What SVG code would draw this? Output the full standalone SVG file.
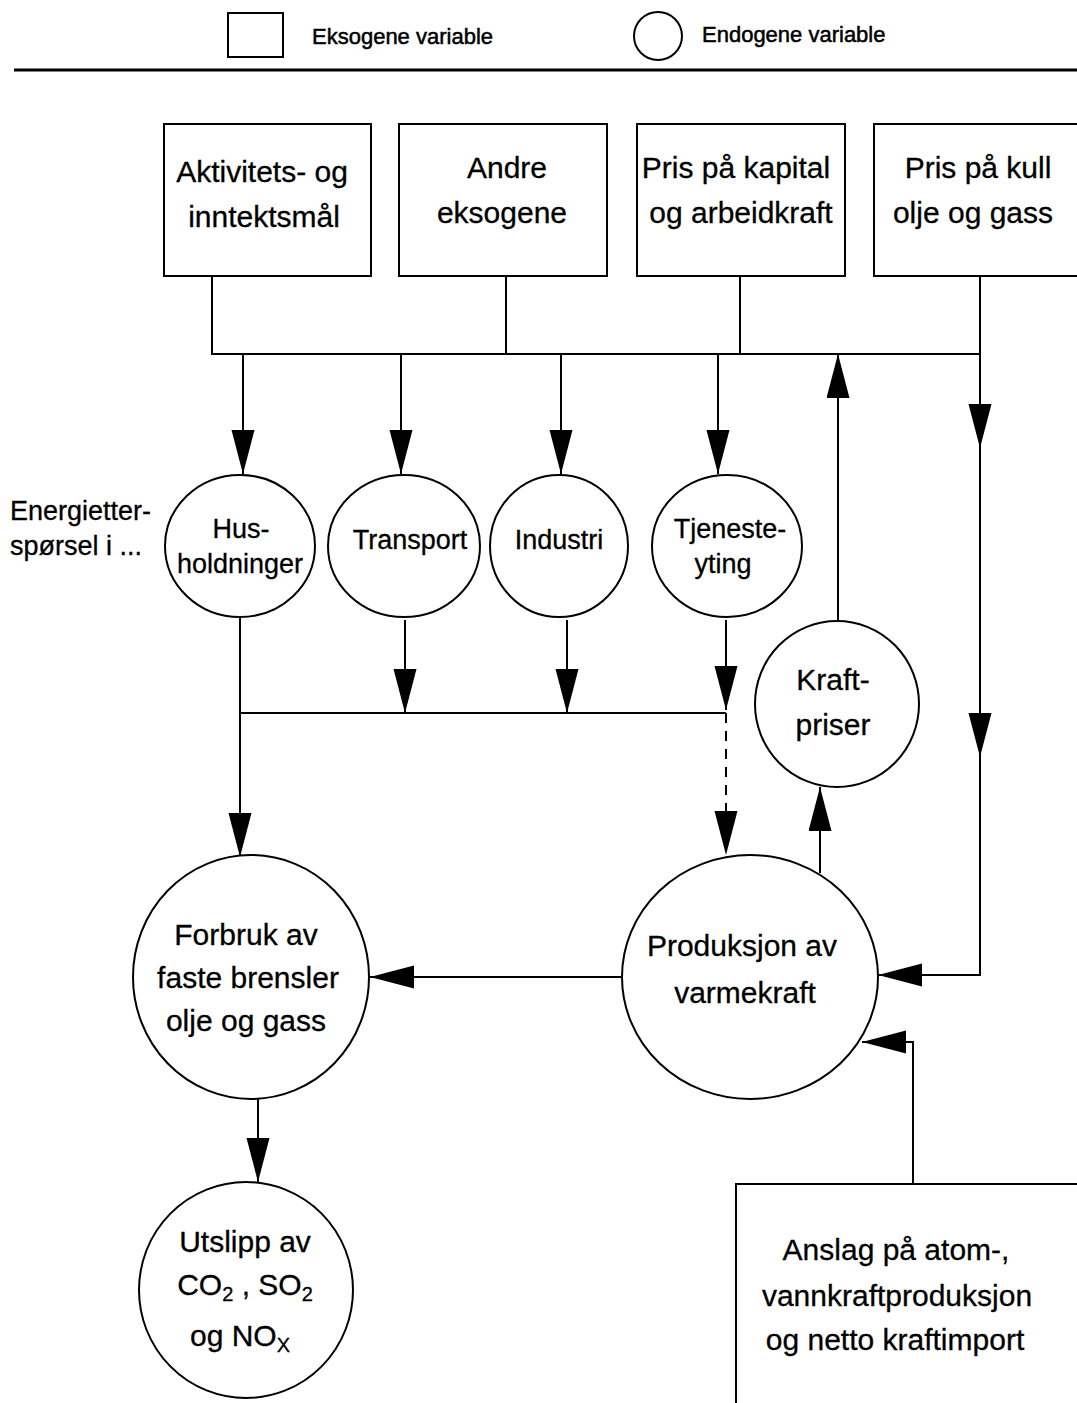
<svg xmlns="http://www.w3.org/2000/svg" width="1077" height="1403" viewBox="0 0 1077 1403">
<style>
  .box { fill: #fff; stroke: #000; stroke-width: 2; }
  .node { fill: #fff; stroke: #000; stroke-width: 2; }
  .line { fill: none; stroke: #000; stroke-width: 2; }
  .arr { marker-end: url(#ah); }
  .dash { stroke-dasharray: 10 8; }
  text { font-family: "Liberation Sans", Arial, Helvetica, sans-serif; fill: #000; stroke: #000; stroke-width: 0.3; text-anchor: middle; }
  .t30 { font-size: 30px; }
  .t27 { font-size: 27px; }
  .leg { font-size: 22px; text-anchor: start; stroke-width: 0.5; }
</style>
<defs>
  <marker id="ah" markerUnits="userSpaceOnUse" markerWidth="46" markerHeight="24" refX="44" refY="11.5" orient="auto">
    <path d="M0,0 L44,11.5 L0,23 Z" fill="#000"/>
  </marker>
</defs>
<rect width="1077" height="1403" fill="#fff"/>

<g id="legend">
  <rect class="box" x="228" y="13" width="55" height="44"/>
  <text class="leg" x="312" y="44">Eksogene variable</text>
  <ellipse class="node" cx="658" cy="36" rx="24" ry="24"/>
  <text class="leg" x="702" y="42">Endogene variable</text>
  <line x1="14" y1="70" x2="1077" y2="70" stroke="#000" stroke-width="3"/>
</g>

<g id="connectors">
  <path class="line" d="M212,276 V354 H980"/>
  <path class="line" d="M506,276 V354"/>
  <path class="line" d="M740,276 V354"/>
  <path class="line arr" d="M243,354 V474"/>
  <path class="line arr" d="M401,354 V474"/>
  <path class="line arr" d="M561,354 V474"/>
  <path class="line arr" d="M718,354 V474"/>
  <path class="line arr" d="M980,276 V448"/>
  <path class="line arr" d="M980,448 V757"/>
  <path class="line arr" d="M980,757 V975 H878"/>
  <path class="line arr" d="M838,621 V354"/>
  <path class="line arr" d="M240,617 V857"/>
  <path class="line" d="M240,713 H726"/>
  <path class="line arr" d="M405,620 V713"/>
  <path class="line arr" d="M567,620 V713"/>
  <path class="line arr" d="M726,620 V710"/>
  <path class="line dash arr" d="M726,713 V855"/>
  <path class="line arr" d="M820,873 V787"/>
  <path class="line arr" d="M622,977 H370"/>
  <path class="line arr" d="M258,1099 V1182"/>
  <path class="line arr" d="M913,1184 V1042 H862"/>
</g>

<g id="box-aktivitet">
  <rect class="box" x="164" y="124" width="207" height="152"/>
  <text class="t30" x="262" y="182">Aktivitets- og</text>
  <text class="t30" x="264" y="227">inntektsmål</text>
</g>
<g id="box-andre">
  <rect class="box" x="399" y="124" width="208" height="152"/>
  <text class="t30" x="507" y="178">Andre</text>
  <text class="t30" x="502" y="223">eksogene</text>
</g>
<g id="box-kapital">
  <rect class="box" x="637" y="124" width="208" height="152"/>
  <text class="t30" x="736" y="178">Pris på kapital</text>
  <text class="t30" x="741" y="223">og arbeidkraft</text>
</g>
<g id="box-kull">
  <rect class="box" x="874" y="124" width="210" height="152"/>
  <text class="t30" x="978" y="178">Pris på kull</text>
  <text class="t30" x="973" y="223">olje og gass</text>
</g>

<g id="label-energi">
  <text class="t27" x="10" y="520" style="text-anchor:start">Energietter-</text>
  <text class="t27" x="10" y="555" style="text-anchor:start">spørsel i ...</text>
</g>

<g id="node-hus">
  <ellipse class="node" cx="240" cy="546" rx="75" ry="71"/>
  <text class="t27" x="241" y="538">Hus-</text>
  <text class="t27" x="240" y="573">holdninger</text>
</g>
<g id="node-transport">
  <ellipse class="node" cx="404" cy="546" rx="76" ry="71"/>
  <text class="t27" x="410" y="549">Transport</text>
</g>
<g id="node-industri">
  <ellipse class="node" cx="559" cy="546" rx="69" ry="71"/>
  <text class="t27" x="559" y="549">Industri</text>
</g>
<g id="node-tjeneste">
  <ellipse class="node" cx="727" cy="546" rx="75" ry="71"/>
  <text class="t27" x="730" y="538">Tjeneste-</text>
  <text class="t27" x="723" y="573">yting</text>
</g>
<g id="node-kraftpriser">
  <ellipse class="node" cx="837" cy="704" rx="82" ry="83"/>
  <text class="t30" x="833" y="690">Kraft-</text>
  <text class="t30" x="833" y="735">priser</text>
</g>
<g id="node-forbruk">
  <ellipse class="node" cx="251" cy="977" rx="118" ry="122"/>
  <text class="t30" x="246" y="945">Forbruk av</text>
  <text class="t30" x="248" y="988">faste brensler</text>
  <text class="t30" x="246" y="1031">olje og gass</text>
</g>
<g id="node-produksjon">
  <ellipse class="node" cx="750" cy="977" rx="128" ry="122"/>
  <text class="t30" x="742" y="956">Produksjon av</text>
  <text class="t30" x="745" y="1003">varmekraft</text>
</g>
<g id="node-utslipp">
  <ellipse class="node" cx="246" cy="1290" rx="107" ry="108"/>
  <text class="t30" x="245" y="1252">Utslipp av</text>
  <text class="t30" x="245" y="1295">CO<tspan font-size="20" dy="6">2</tspan><tspan dy="-6"> , SO</tspan><tspan font-size="20" dy="6">2</tspan></text>
  <text class="t30" x="240" y="1346">og NO<tspan font-size="20" dy="6">X</tspan></text>
</g>
<g id="box-anslag">
  <rect class="box" x="736" y="1184" width="350" height="230"/>
  <text class="t30" x="896" y="1260">Anslag på atom-,</text>
  <text class="t30" x="897" y="1306">vannkraftproduksjon</text>
  <text class="t30" x="895" y="1350">og netto kraftimport</text>
</g>
</svg>
